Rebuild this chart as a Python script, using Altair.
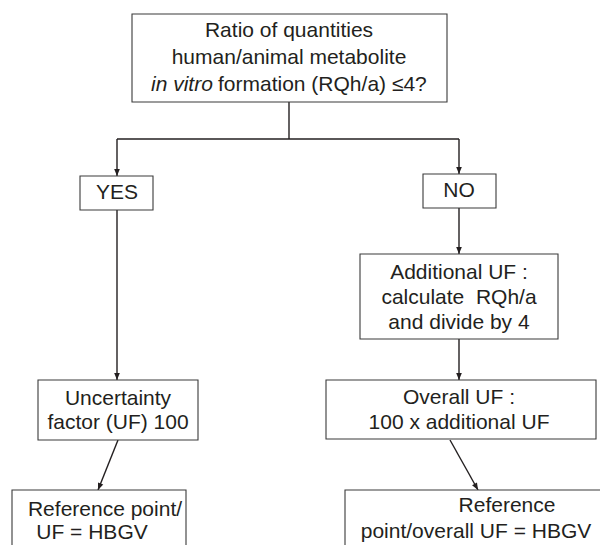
import math
import altair as alt
import pandas as pd

# ---------------- content ----------------
box_names = ["question", "yes", "no", "additional", "uncertainty", "overall", "ref_left", "ref_right"]
box_lines = [
    ["Ratio of quantities", "human/animal metabolite"],
    ["YES"],
    ["NO"],
    ["Additional UF :", "calculate\u00a0 RQh/a", "and divide by 4"],
    ["Uncertainty", "factor (UF) 100"],
    ["Overall UF :", "100 x additional UF"],
    ["Reference point/", "UF = HBGV"],
    ["Reference", "point/overall UF = HBGV"],
]
italic_part = "in vitro"
plain_part = "formation (RQh/a) ≤4?"

# ---------------- layout (page pixels) ----------------
box_x0 = [132, 80, 423, 360, 38, 326, 12, 345]
box_x1 = [447, 153, 496, 558, 198, 596, 186, 602]
box_y0 = [14, 176, 174, 254, 380, 380, 490, 490]
box_y1 = [102, 210, 208, 339, 440, 439, 570, 570]
line_x = [[289, 289], [117], [459], [459, 459, 459], [118, 118], [459, 459], [105, 92], [507, 476]]
line_y = [[31, 58], [193], [191], [273, 298, 323], [399, 423], [398, 423], [510, 533], [506, 532]]
italic_x, plain_x, third_y = 151, 218, 85

# connector segments (x1, y1, x2, y2, arrow?)
segments = [
    (289, 102, 289, 139, False),
    (117, 139, 459, 139, False),
    (117, 139, 117, 176, True),
    (459, 139, 459, 174, True),
    (117, 210, 117, 380, True),
    (459, 208, 459, 254, True),
    (459, 339, 459, 380, True),
    (118, 440, 98, 490, True),
    (450, 440, 478, 490, True),
]

W, H = 592, 537
xs = alt.Scale(domain=[8, 8 + W], nice=False, zero=False)
ys = alt.Scale(domain=[8 + H, 8], nice=False, zero=False)
INK = "#231f20"
FONT = "Liberation Sans"
FS = 21

boxes = pd.DataFrame({"name": box_names, "x0": box_x0, "x1": box_x1, "y0": box_y0, "y1": box_y1})

rows = []
for name, lines, lx, ly in zip(box_names, box_lines, line_x, line_y):
    for t, x, y in zip(lines, lx, ly):
        rows.append({"t": t, "x": x, "y": y})
texts = pd.DataFrame(rows)
third = pd.DataFrame({"t": [italic_part, plain_part], "x": [italic_x, plain_x], "y": [third_y, third_y],
                      "style": ["italic", "normal"]})

segs = pd.DataFrame([{"x1": a, "y1": b, "x2": c, "y2": d} for a, b, c, d, _ in segments])
heads = pd.DataFrame([
    {"x": c, "y": d, "ang": math.degrees(math.atan2(-(c - a), (d - b))) % 360}
    for a, b, c, d, arr in segments if arr
])

rect_layer = alt.Chart(boxes).mark_rect(fill="white", stroke="#3a3a3a", strokeWidth=1.1, clip=True).encode(
    x=alt.X("x0:Q", scale=xs, axis=None), x2="x1:Q",
    y=alt.Y("y0:Q", scale=ys, axis=None), y2="y1:Q",
)

rule_layer = alt.Chart(segs).mark_rule(color=INK, strokeWidth=1.4).encode(
    x=alt.X("x1:Q", scale=xs, axis=None), x2="x2:Q",
    y=alt.Y("y1:Q", scale=ys, axis=None), y2="y2:Q",
)

head_layer = alt.Chart(heads).mark_point(
    shape="M0,0L-0.4,-1L0.4,-1Z", filled=True, fill=INK, stroke=None, opacity=1, size=200
).encode(
    x=alt.X("x:Q", scale=xs, axis=None),
    y=alt.Y("y:Q", scale=ys, axis=None),
    angle=alt.Angle("ang:Q", scale=None),
)

text_layer = alt.Chart(texts).mark_text(
    font=FONT, fontSize=FS, color=INK, align="center", baseline="middle"
).encode(
    x=alt.X("x:Q", scale=xs, axis=None),
    y=alt.Y("y:Q", scale=ys, axis=None),
    text="t:N",
)

third_italic = alt.Chart(third[third["style"] == "italic"]).mark_text(
    font=FONT, fontSize=FS, color=INK, align="left", baseline="middle", fontStyle="italic"
).encode(
    x=alt.X("x:Q", scale=xs, axis=None), y=alt.Y("y:Q", scale=ys, axis=None), text="t:N"
)
third_plain = alt.Chart(third[third["style"] == "normal"]).mark_text(
    font=FONT, fontSize=FS, color=INK, align="left", baseline="middle"
).encode(
    x=alt.X("x:Q", scale=xs, axis=None), y=alt.Y("y:Q", scale=ys, axis=None), text="t:N"
)

chart = alt.layer(rule_layer, head_layer, rect_layer, text_layer, third_italic, third_plain).properties(
    width=W, height=H, padding=0, autosize=alt.AutoSizeParams(type="none"), background="white"
).configure_view(stroke=None)

chart.save("out.html", embed_options={"renderer": "svg", "actions": False})
